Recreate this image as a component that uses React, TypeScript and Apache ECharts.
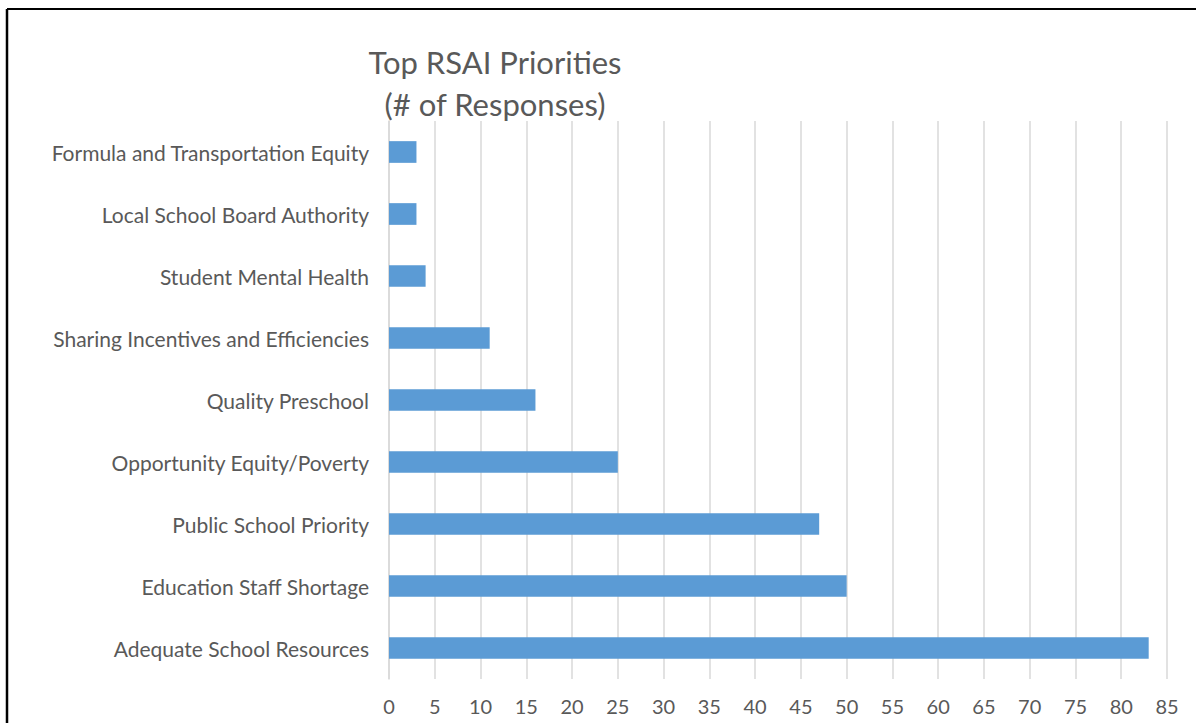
import React, { useEffect, useRef } from "react";
import * as echarts from "echarts";

const categories = [
  "Adequate School Resources",
  "Education Staff Shortage",
  "Public School Priority",
  "Opportunity Equity/Poverty",
  "Quality Preschool",
  "Sharing Incentives and Efficiencies",
  "Student Mental Health",
  "Local School Board Authority",
  "Formula and Transportation Equity",
];
const responses = [83, 50, 47, 25, 16, 11, 4, 3, 3];
const titleLines = ["Top RSAI Priorities", "(# of Responses)"];

export default function App() {
  const ref = useRef<HTMLDivElement>(null);
  useEffect(() => {
    document.body.style.margin = "0";
    const chart = echarts.init(ref.current!, null, { renderer: "svg" });
    const font = "Lato, 'Open Sans', sans-serif";
    chart.setOption({
      animation: false,
      backgroundColor: "#ffffff",
      title: {
        text: titleLines.join("\n"),
        left: 495,
        top: 41,
        padding: 0,
        textAlign: "center",
        textStyle: {
          fontFamily: font,
          fontSize: 31,
          fontWeight: "normal",
          color: "#595959",
          lineHeight: 42,
        },
      },
      grid: { left: 389, right: 29, top: 121, bottom: 44, containLabel: false },
      xAxis: {
        type: "value",
        min: 0,
        max: 85,
        interval: 5,
        axisLine: { show: false },
        axisTick: { show: false },
        splitLine: { show: true, lineStyle: { color: "#d9d9d9", width: 1.5 } },
        axisLabel: { color: "#595959", fontFamily: font, fontSize: 20, margin: 17 },
      },
      yAxis: {
        type: "category",
        data: categories,
        axisLine: { show: true, lineStyle: { color: "#d9d9d9", width: 1.5 } },
        axisTick: { show: false },
        axisLabel: { color: "#595959", fontFamily: font, fontSize: 21, margin: 20 },
      },
      series: [
        {
          type: "bar",
          data: responses,
          barWidth: "35%",
          itemStyle: { color: "#5b9bd5" },
        },
      ],
      graphic: [
        { type: "line", shape: { x1: 7, y1: 9, x2: 1196, y2: 9 }, style: { stroke: "#000", lineWidth: 2 } },
        { type: "line", shape: { x1: 7, y1: 9, x2: 7, y2: 723 }, style: { stroke: "#000", lineWidth: 2.5 } },
      ],
    });
    return () => chart.dispose();
  }, []);
  return <div ref={ref} style={{ width: 1196, height: 723 }} />;
}
